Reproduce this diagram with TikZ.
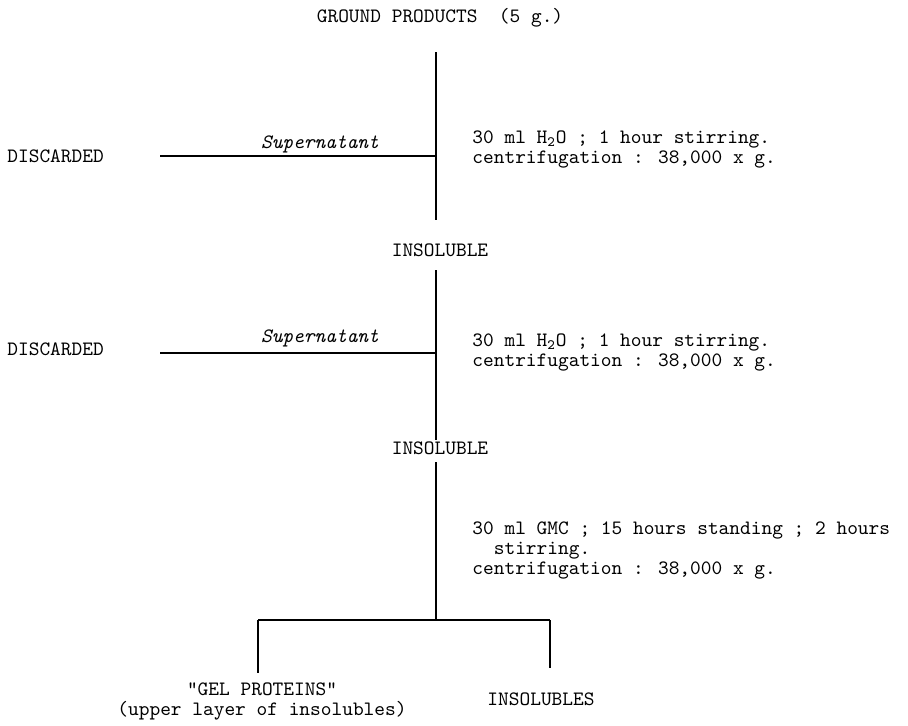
\documentclass[tikz,border=0pt]{standalone}
\usepackage{fontspec}
\usetikzlibrary{positioning}

\begin{document}
\begin{tikzpicture}[
  x=0.5pt, y=-0.5pt,
  txt/.style={font=\ttfamily\fontsize{10.2}{10}\selectfont, inner sep=0pt},
  stage/.style={txt, align=center},
  waste/.style={txt, anchor=west},
  phase/.style={txt, font=\ttfamily\itshape\fontsize{10.2}{10}\selectfont},
  recipe/.style={txt, anchor=west, align=left},
  flow/.style={line width=1pt}
]
  \useasboundingbox (0,0) rectangle (908,725);

  % main column
  \node[stage] (ground) at (440,18) {GROUND PRODUCTS\ \ (5 g.)};
  \node[stage] (insolA) at (440,250) {INSOLUBLE};
  \node[stage] (insolB) at (440,448) {INSOLUBLE};

  % washes
  \node[waste] (discA) at (7,156) {DISCARDED};
  \node[phase] (superA) at (320,144) {Supernatant};
  \node[recipe] (washA) at (472,149) {30 ml H\textsubscript{2}O ; 1 hour stirring.\\centrifugation : 38,000 x g.};

  \node[waste] (discB) at (7,349) {DISCARDED};
  \node[phase] (superB) at (320,338) {Supernatant};
  \node[recipe] (washB) at (472,352) {30 ml H\textsubscript{2}O ; 1 hour stirring.\\centrifugation : 38,000 x g.};

  \node[recipe] (extract) at (472,550) {30 ml GMC ; 15 hours standing ; 2 hours\\\ \ stirring.\\centrifugation : 38,000 x g.};

  % fractions
  \node[stage] (gel) at (262,701) {"GEL PROTEINS"\\(upper layer of insolubles)};
  \node[stage] (rest) at (541,699) {INSOLUBLES};

  % line ends
  \coordinate (topA) at (436,52);
  \coordinate (botA) at (436,220);
  \coordinate (topB) at (436,270);
  \coordinate (botB) at (436,440);
  \coordinate (topC) at (436,462);
  \coordinate (fork) at (436,620);
  \coordinate (leftA) at (160,156);
  \coordinate (leftB) at (160,353);
  \coordinate (forkL) at (258,620);
  \coordinate (forkR) at (550,620);
  \coordinate (endL) at (258,673);
  \coordinate (endR) at (550,668);

  \draw[flow] (topA) -- (botA);
  \draw[flow] (topB) -- (botB);
  \draw[flow] (topC) -- (fork);
  \draw[flow] (leftA) -- (leftA -| topA);
  \draw[flow] (leftB) -- (leftB -| topB);
  \draw[flow] (forkL) -- (forkR);
  \draw[flow] (forkL) -- (endL);
  \draw[flow] (forkR) -- (endR);
\end{tikzpicture}
\end{document}
